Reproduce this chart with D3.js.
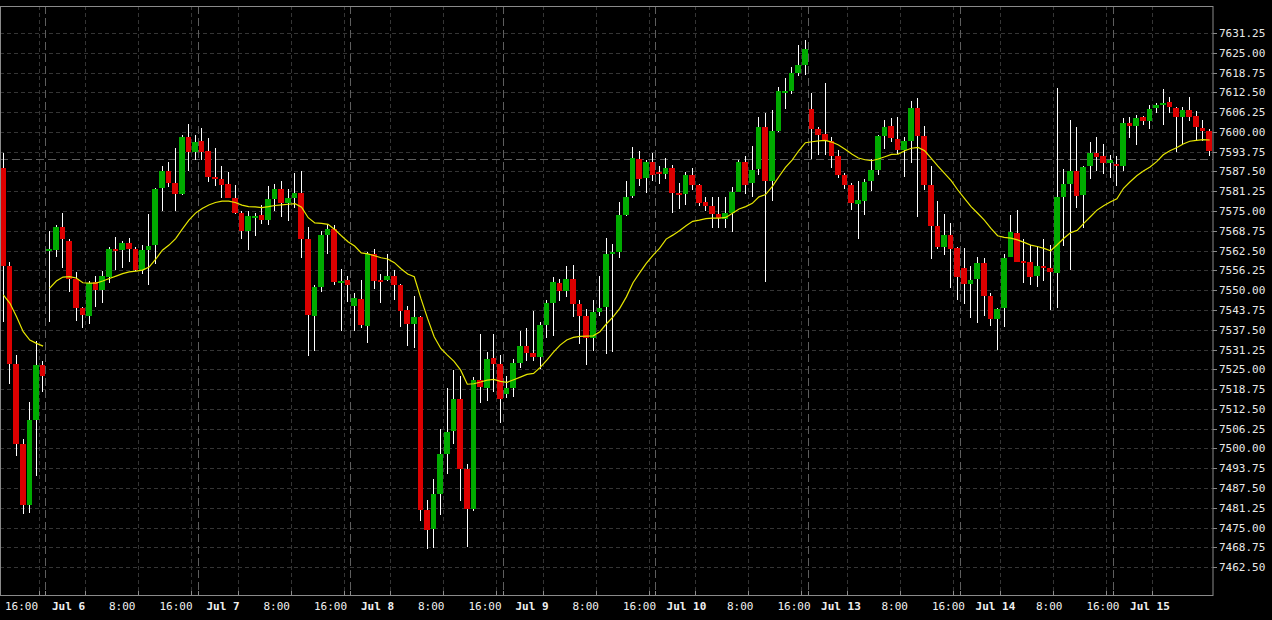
<!DOCTYPE html>
<html><head><meta charset="utf-8">
<script src="https://cdn.jsdelivr.net/npm/d3@7"></script>
<style>html,body{margin:0;padding:0;background:#000;overflow:hidden}</style>
</head><body>
<svg id="chart" width="1272" height="620"></svg>
<script>
const opens = [7588.75,7557.5,7526.75,7501.5,7482,7509,7526.25,7562.5,7562.75,7570,7565.5,7553.5,7544.5,7542,7552.5,7550,7554.25,7563,7562.75,7565,7563,7556.5,7562.75,7564.25,7582.25,7587.75,7583.75,7580.25,7598.5,7593.75,7597,7594,7585.75,7585.25,7583.5,7579.25,7574.5,7568.75,7573,7573.75,7572.25,7578.75,7582,7577.5,7579,7580.75,7566.25,7541.75,7551,7567.5,7569.25,7552.25,7553.25,7545,7547.25,7538.75,7561.5,7553.25,7553.25,7554.5,7551.5,7543.75,7539.25,7541.5,7480.5,7474.5,7485.5,7498.25,7505.5,7515.5,7493.5,7481,7521.75,7519.25,7528.5,7526.75,7517.25,7519.25,7527,7532.25,7530.25,7528.75,7539,7546,7552.25,7549.75,7553.5,7545.5,7541.75,7534.75,7543.25,7544.75,7561.5,7562,7573.75,7579.75,7591.5,7585.5,7590.5,7587.25,7586.75,7588.5,7580.75,7580.5,7586.5,7583.25,7577.75,7576.5,7574,7572.5,7574.5,7581,7590.5,7583.75,7588.25,7601.5,7584.5,7600.25,7612.25,7613,7618.5,7621.25,7607.25,7601,7599.5,7597,7592.5,7586.5,7583.25,7577.25,7578.25,7584.5,7588,7598.75,7601.75,7597.75,7594.25,7597,7607.5,7598.75,7583.25,7570.25,7563.75,7567.5,7563.25,7557,7552,7553.5,7558.5,7548.25,7540.75,7544.5,7560.5,7568,7559.25,7559,7554.5,7557.5,7557,7555.5,7579.5,7583.5,7587.75,7580,7589.25,7593.5,7592.25,7590.25,7589.75,7589.25,7602.75,7601.75,7604.75,7603.5,7607.5,7608.5,7609.5,7607.5,7604.75,7607,7605,7601.25,7600.25];
const highs = [7593.5,7559,7529.5,7503,7514.75,7534,7527.5,7568.75,7570.75,7574.5,7566.25,7555.75,7544.75,7553,7554.5,7556,7563.5,7566.75,7565.5,7566.5,7563.5,7564.25,7574,7582.25,7589.25,7590.5,7595,7599,7602.5,7599,7601.25,7598,7595,7589.25,7587.25,7583.25,7575,7575,7574.5,7577,7583,7583.5,7584.5,7582,7587,7587.5,7570,7551.5,7568.75,7571,7570.5,7556.75,7554.5,7549,7553.25,7562,7563,7555,7561.5,7556.5,7552,7545,7548.25,7541.75,7483.75,7490.25,7506.25,7519,7524.75,7522.75,7495,7522.5,7536.25,7530.5,7536.25,7529.5,7523,7528.25,7537.25,7538,7543.5,7540,7546.75,7554.25,7553.5,7557.5,7558,7546.75,7544,7546.75,7554.5,7566.5,7564.5,7578,7584.5,7595.25,7594,7591,7593.5,7589.25,7591.75,7589.5,7583.75,7587.25,7588.5,7583.5,7579.5,7579.5,7579.5,7579.5,7582.5,7591,7592.25,7595.5,7604.75,7606,7607,7614.25,7617,7620.5,7627.5,7629,7612.25,7601.5,7615.5,7598.5,7594.25,7587,7584,7584.5,7585,7591.5,7599,7603.75,7604.5,7604.75,7598.5,7609.75,7610.75,7601.75,7589.25,7578.25,7574,7571.25,7563.75,7563.25,7557.5,7560.5,7560.25,7549,7544.5,7561.5,7573.75,7575.25,7566.25,7564.25,7564,7566.25,7564.25,7614,7588.25,7603.75,7601.5,7589.25,7596.75,7598.5,7596.25,7592.75,7592.25,7604.5,7604.75,7605.25,7605,7608.5,7609.25,7613.5,7611,7607.75,7608,7611,7606.5,7603.75,7601];
const lows = [7540,7520.25,7497.75,7479.25,7479.75,7491.25,7517.75,7540,7560.5,7557,7549.5,7540.25,7538,7539.25,7544.75,7546,7552.25,7556.25,7557,7559,7556,7555,7551.5,7558.25,7575,7582.75,7575,7580,7587.75,7591.25,7591,7584.25,7583,7579.25,7579,7574,7566.25,7562.75,7567,7571,7570.75,7575,7573.25,7572,7576,7560.25,7529.25,7530.75,7549.5,7561.5,7551.5,7537,7546.25,7537.25,7538,7533.25,7550.25,7546,7553,7546.75,7538.5,7532.5,7531.75,7477,7468.25,7468.5,7479,7492,7501.5,7483.5,7469,7480.25,7514.25,7515,7518,7508,7516,7516.25,7525.5,7527.5,7527.5,7525,7534.75,7535.5,7546.5,7548,7541.5,7533,7526.5,7530.75,7542,7530,7530.5,7560.25,7573.5,7579.25,7583,7580.75,7584.5,7583.5,7585,7574.5,7575.75,7577,7581.75,7576.5,7575,7569.5,7569.5,7569.75,7568.5,7581,7580.5,7579.5,7586.5,7552.75,7578.25,7600,7607.25,7612,7617.75,7618,7591.5,7592.75,7592.75,7588.5,7585.5,7582,7575.25,7566.25,7573.75,7581.25,7586.5,7594.5,7596.75,7593,7585.75,7590.25,7573.25,7581.75,7560,7563,7561,7550.75,7547,7545.75,7541.25,7539.5,7542,7538.75,7531,7538.25,7560.5,7559,7552.25,7551.75,7551,7553,7543.75,7544.5,7564,7556.25,7576,7569.75,7585.25,7587.75,7586.75,7585.5,7583,7587.75,7598,7596,7602.25,7601,7606,7602.25,7606,7593.75,7595.75,7603.5,7597,7597,7592.5];
const closes = [7557.5,7526.75,7501.5,7482,7509,7526.25,7523,7563,7570,7566.25,7553.5,7544.5,7542.25,7552.25,7550,7554.5,7563,7562.25,7565,7563,7556.25,7562.75,7564,7582,7587.75,7583.75,7580.25,7598.5,7593.75,7596.75,7593.75,7585.75,7585,7583.25,7579.25,7574.25,7568.75,7573.5,7573.5,7572.25,7578.75,7582,7577.5,7579,7580.75,7566.25,7542.25,7551,7567.5,7569.25,7552.75,7553,7551.75,7547.5,7539,7561.5,7553,7552.75,7554.5,7551.5,7543.5,7539.25,7541.5,7480.5,7474.25,7485.5,7498.25,7505.25,7515.5,7493.5,7481,7521.75,7519.5,7528.25,7526.75,7515.5,7519.25,7527,7532.25,7530.25,7528.75,7539,7546,7552.5,7549.75,7553.5,7545.75,7541.75,7534.75,7543.25,7544.5,7561.5,7562,7573.75,7579.5,7591.75,7585.25,7590.5,7586.5,7586.75,7588.5,7580.75,7580,7586.5,7583.25,7577.5,7576.5,7574,7572.75,7574.5,7581,7590.5,7583.25,7588,7601.5,7584.5,7600.25,7613,7613,7618.5,7621.25,7626.25,7601,7599,7597,7592.5,7586.5,7583.25,7577.5,7578.5,7584.25,7588,7598.75,7601.5,7598,7594.25,7597,7607.5,7598.75,7583.25,7570.25,7563.75,7567.5,7563,7554.25,7552,7553.25,7558.5,7548.25,7540.75,7544,7560.25,7568.25,7559,7558.5,7554.25,7557.5,7557,7555.75,7579.5,7583.5,7587.75,7579.75,7589,7593.5,7592,7590.25,7591,7589.25,7602.75,7601.75,7604.5,7603.5,7607.25,7608.5,7609.25,7607.75,7604.75,7607,7604.75,7601.5,7600.25,7594];
const maValues = [7548.5,7545.85,7541.6,7536.9,7534.25,7533.2,7532.35,7550.65,7552.9,7554.15,7554.3,7553.85,7552.35,7552.25,7552.25,7552.9,7553.7,7554.45,7555.25,7555.8,7556.05,7556.35,7557.3,7559.85,7562.65,7564.25,7566.3,7569.3,7572.15,7574.35,7575.8,7576.9,7577.7,7578.15,7578.15,7577.7,7576.9,7576.4,7576.35,7576.1,7576.4,7576.75,7576.95,7577.15,7577.35,7576.25,7572.9,7571.25,7571.1,7570.8,7569.2,7567.2,7565.3,7563.95,7561.8,7561.5,7560.9,7560.25,7559.85,7558.7,7556.8,7555.1,7554.25,7547.4,7541.1,7535.3,7531.6,7529.5,7527.5,7524.75,7520.3,7520.45,7521.0,7521.6,7521.8,7521.2,7520.9,7521.7,7522.55,7523.4,7523.7,7525.6,7527.9,7530.45,7532.65,7534.25,7535.1,7535.4,7535.5,7535.6,7536.9,7539.4,7541.6,7544.25,7547.9,7552.35,7555.5,7558.45,7561.0,7563.2,7566.15,7567.4,7568.8,7570.35,7571.75,7572.15,7572.6,7572.8,7572.8,7573.0,7574.3,7575.65,7576.4,7577.45,7579.5,7580.2,7582.7,7585.85,7588.8,7591.1,7594.05,7596.6,7596.9,7597.2,7597.35,7596.8,7595.85,7594.5,7593.0,7591.75,7591.2,7590.9,7591.45,7592.15,7592.9,7593.0,7594.05,7594.85,7595.1,7594.05,7591.65,7589.2,7586.9,7584.6,7581.65,7579.0,7576.4,7574.3,7572.15,7569.5,7567.2,7566.7,7566.45,7565.9,7565.1,7564.25,7563.8,7563.2,7562.45,7564.35,7566.4,7568.15,7568.9,7571.1,7573.2,7575.3,7576.7,7577.85,7578.9,7582.2,7584.25,7586.15,7587.65,7588.9,7590.6,7592.8,7594.05,7595.0,7596.2,7597.05,7597.35,7597.55,7597.45];
const maBreak = 7;
const timeLabels = ["16:00","Jul 6","8:00","16:00","Jul 7","8:00","16:00","Jul 8","8:00","16:00","Jul 9","8:00","16:00","Jul 10","8:00","16:00","Jul 13","8:00","16:00","Jul 14","8:00","16:00","Jul 15"];
const priceTicks = [7631.25,7625.00,7618.75,7612.50,7606.25,7600.00,7593.75,7587.50,7581.25,7575.00,7568.75,7562.50,7556.25,7550.00,7543.75,7537.50,7531.25,7525.00,7518.75,7512.50,7506.25,7500.00,7493.75,7487.50,7481.25,7475.00,7468.75,7462.50];
const lastPrice = 7591.5;
const daySessions = 8;       // session separators
const barsPerSession = 23;
const firstSessionBar = 7;

const n = opens.length;
const W = 1272, H = 620;
const plot = {left: 0, right: 1213, top: 6, bottom: 595};
const svg = d3.select("#chart");
svg.append("rect").attr("width", W).attr("height", H).attr("fill", "#000");

const x = d3.scaleLinear().domain([0, n]).range([plot.left, plot.right]);
const y = d3.scaleLinear().domain([7462.5, 7631.25]).range([567.2, 33]);
const xLab = d3.scaleLinear().domain([0, n]).range([1.35, 1.35 + n * 6.717]);

// label / grid slots
const steps = [7, 8, 8];
const labelSlots = [];
let s = 3;
for (let k = 0; k < timeLabels.length; k++) { labelSlots.push(s); s += steps[k % 3]; }
const gridSlots = labelSlots.map(v => v + 3).filter(v => v < n);
const sepSlots = d3.range(daySessions).map(k => firstSessionBar + k * barsPerSession);

const g = svg.append("g");
// horizontal grid
g.selectAll(".hg").data(priceTicks).join("line")
  .attr("x1", plot.left).attr("x2", plot.right)
  .attr("y1", d => Math.round(y(d)) + 0.5).attr("y2", d => Math.round(y(d)) + 0.5)
  .attr("stroke", "#353535").attr("stroke-dasharray", "4,3");
// vertical grid
g.selectAll(".vg").data(gridSlots).join("line")
  .attr("x1", d => Math.round(x(d)) - 0.5).attr("x2", d => Math.round(x(d)) - 0.5)
  .attr("y1", plot.top).attr("y2", plot.bottom)
  .attr("stroke", "#353535").attr("stroke-dasharray", "4,3");
// session separators
g.selectAll(".sep").data(sepSlots).join("line")
  .attr("x1", d => Math.round(x(d)) - 0.5).attr("x2", d => Math.round(x(d)) - 0.5)
  .attr("y1", plot.top).attr("y2", plot.bottom)
  .attr("stroke", "#5e5e5e").attr("stroke-dasharray", "8,4");
// last price line
g.append("line").attr("x1", plot.left).attr("x2", plot.right)
  .attr("y1", Math.round(y(lastPrice)) + 0.5).attr("y2", Math.round(y(lastPrice)) + 0.5)
  .attr("stroke", "#5e5e5e").attr("stroke-dasharray", "8,4");

// candles
const idx = d3.range(n);
const left = i => Math.round(x(i));
const bw = i => Math.round(x(i + 1)) - Math.round(x(i)) - 1;
const cg = svg.append("g").attr("shape-rendering", "crispEdges");
cg.selectAll(".wick").data(idx).join("line")
  .attr("x1", i => left(i) + Math.floor(bw(i) / 2) + 0.5)
  .attr("x2", i => left(i) + Math.floor(bw(i) / 2) + 0.5)
  .attr("y1", i => y(highs[i])).attr("y2", i => y(lows[i]))
  .attr("stroke", "#ffffff").attr("stroke-width", 1);
cg.selectAll(".body").data(idx).join("rect")
  .attr("x", left).attr("width", bw)
  .attr("y", i => y(Math.max(opens[i], closes[i])))
  .attr("height", i => Math.max(2, y(Math.min(opens[i], closes[i])) - y(Math.max(opens[i], closes[i]))))
  .attr("fill", i => closes[i] >= opens[i] ? "#00aa00" : "#dd0000");

// moving average
const line = d3.line().x(i => x(i + 0.5)).y(i => y(maValues[i]));
[d3.range(0, maBreak), d3.range(maBreak, n)].forEach(seg => {
  svg.append("path").attr("d", line(seg)).attr("fill", "none")
    .attr("stroke", "#e6e600").attr("stroke-width", 1.2);
});

// frame
svg.append("rect").attr("x", plot.left + 0.5).attr("y", plot.top + 0.5)
  .attr("width", plot.right - plot.left - 0.5).attr("height", plot.bottom - plot.top)
  .attr("fill", "none").attr("stroke", "#8a8a8a");

// right axis
const ax = svg.append("g");
ax.selectAll(".yt").data(priceTicks).join("line")
  .attr("x1", plot.right).attr("x2", plot.right + 4)
  .attr("y1", d => Math.round(y(d)) + 0.5).attr("y2", d => Math.round(y(d)) + 0.5)
  .attr("stroke", "#8a8a8a");
ax.selectAll(".yl").data(priceTicks).join("text")
  .attr("x", plot.right + 6).attr("y", d => y(d)).attr("dy", "0.36em")
  .attr("fill", "#e8e8e8").attr("font-family", "DejaVu Sans Mono, monospace").attr("font-size", 11)
  .text(d => d.toFixed(2));

// bottom ticks
const tickSlots = gridSlots.concat(sepSlots);
ax.selectAll(".xt").data(tickSlots).join("line")
  .attr("x1", d => Math.round(x(d)) - 0.5).attr("x2", d => Math.round(x(d)) - 0.5)
  .attr("y1", plot.bottom - 4).attr("y2", plot.bottom)
  .attr("stroke", "#8a8a8a");
ax.selectAll(".xl").data(timeLabels).join("text")
  .attr("x", (d, k) => xLab(labelSlots[k])).attr("y", 610)
  .attr("text-anchor", "middle")
  .attr("fill", "#f0f0f0").attr("font-family", "DejaVu Sans Mono, monospace").attr("font-size", 11)
  .attr("font-weight", d => d.startsWith("Jul") ? "bold" : "normal")
  .text(d => d);
</script>
</body></html>
